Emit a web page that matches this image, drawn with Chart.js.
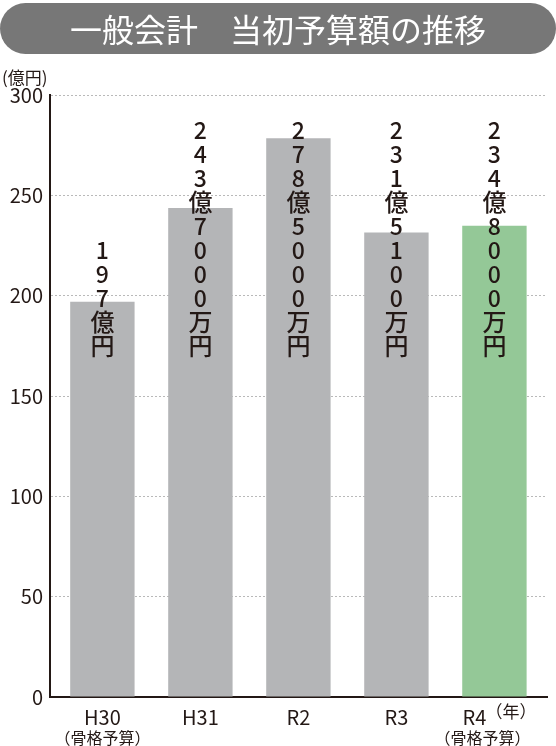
<!DOCTYPE html>
<html>
<head>
<meta charset="utf-8">
<script src="https://cdn.jsdelivr.net/npm/chart.js@4/dist/chart.umd.min.js"></script>
<style>
  html, body { margin: 0; padding: 0; background: #fff; }
  #wrap { position: relative; width: 556px; height: 746px; overflow: hidden; }
  #title {
    position: absolute; left: 0; top: 3px; width: 556px; height: 51px;
    border-radius: 25.5px; background: #777777; color: #fff;
    font-family: "Noto Sans CJK JP", sans-serif; font-size: 32px; font-weight: 400;
    line-height: 51px; text-align: center; letter-spacing: 0px;
  }
  #c { position: absolute; left: 0; top: 0; }
</style>
</head>
<body>
<div id="wrap">
  <canvas id="c" width="556" height="746"></canvas>
  <div id="title">一般会計　当初予算額の推移</div>
</div>
<script>
const categories = ['H30', 'H31', 'R2', 'R3', 'R4'];
const tickLabels = ['H30', 'H31', 'R2', 'R3', 'R4　　'];
const subLabels = ['（骨格予算）', '', '', '', '（骨格予算）　　'];
const values = [197, 243.7, 278.5, 231.5, 234.8];
const valueLabels = ['197億円', '243億7000万円', '278億5000万円', '231億5100万円', '234億8000万円'];
const barColors = ['#b4b5b7', '#b4b5b7', '#b4b5b7', '#b4b5b7', '#94c897'];
const yTicks = [0, 50, 100, 150, 200, 250, 300];
const yUnit = '(億円)';
const xUnit = '（年）';

const FONT = '"Noto Sans CJK JP", "Noto Sans CJK SC", sans-serif';
const INK = '#231815';

const labelPlugin = {
  id: 'labels',
  afterDatasetsDraw(chart) {
    const ctx = chart.ctx;
    const meta = chart.getDatasetMeta(0);
    const ys = chart.scales.y;
    const base = ys.getPixelForValue(175);
    ctx.save();
    ctx.fillStyle = INK;
    ctx.textAlign = 'center';
    ctx.textBaseline = 'middle';
    valueLabels.forEach((s, i) => {
      const chars = Array.from(s);
      const n = chars.length;
      const x = meta.data[i].x;
      chars.forEach((ch, j) => {
        const isDigit = /[0-9]/.test(ch);
        ctx.font = (isDigit ? '500 23px ' : '500 24px ') + FONT;
        ctx.fillText(ch, x, base - (n - 1 - j) * 24);
      });
    });
    ctx.restore();
  },
  afterDraw(chart) {
    const ctx = chart.ctx;
    ctx.save();
    ctx.fillStyle = INK;
    ctx.font = '400 17px ' + FONT;
    ctx.textAlign = 'left';
    ctx.textBaseline = 'middle';
    ctx.fillText(yUnit, 2, 78);
    const xs = chart.scales.x;
    ctx.font = '400 17px ' + FONT;
    ctx.fillText(xUnit, xs.getPixelForValue(categories.length - 1) - 9, 712);
    ctx.restore();
  }
};

new Chart(document.getElementById('c'), {
  type: 'bar',
  data: {
    datasets: [{
      data: values.map((v, i) => ({ x: i, y: v })),
      backgroundColor: barColors,
      borderWidth: 0,
      categoryPercentage: 1,
      barPercentage: 0.657
    }]
  },
  options: {
    responsive: false,
    animation: false,
    devicePixelRatio: 1,
    layout: { padding: { top: 95, right: 9, left: 0, bottom: 0 } },
    plugins: { legend: { display: false }, tooltip: { enabled: false }, title: { display: false } },
    scales: {
      x: {
        type: 'linear',
        position: 'bottom',
        offset: false,
        weight: 0,
        min: -0.5345,
        max: 4.5365,
        afterBuildTicks: s => { s.ticks = categories.map((c, i) => ({ value: i })); },
        afterFit: s => { s.height = 31; },
        grid: { display: false, drawTicks: false, offset: false },
        border: { display: true, color: INK, width: 2 },
        ticks: {
          padding: 8,
          color: INK,
          font: { family: FONT, size: 20 },
          maxRotation: 0,
          autoSkip: false,
          callback: v => tickLabels[v]
        }
      },
      x2: {
        type: 'linear',
        position: 'bottom',
        offset: false,
        weight: 1,
        min: -0.5345,
        max: 4.5365,
        afterBuildTicks: s => { s.ticks = categories.map((c, i) => ({ value: i })); },
        afterFit: s => { s.height = 18; },
        grid: { display: false, drawTicks: false, offset: false },
        border: { display: false },
        ticks: {
          padding: 0,
          color: INK,
          font: { family: FONT, size: 16 },
          maxRotation: 0,
          autoSkip: false,
          callback: v => subLabels[v]
        }
      },
      y: {
        min: 0,
        max: 300,
        afterBuildTicks: s => { s.ticks = yTicks.map(v => ({ value: v })); },
        afterFit: s => { s.width = 50; },
        grid: { display: true, drawTicks: false, color: '#b9b9b9', lineWidth: 1 },
        border: { display: true, color: INK, width: 2, dash: [2, 2] },
        ticks: {
          padding: 7,
          color: INK,
          font: { family: FONT, size: 20 }
        }
      }
    }
  },
  plugins: [labelPlugin]
});
</script>
</body>
</html>
